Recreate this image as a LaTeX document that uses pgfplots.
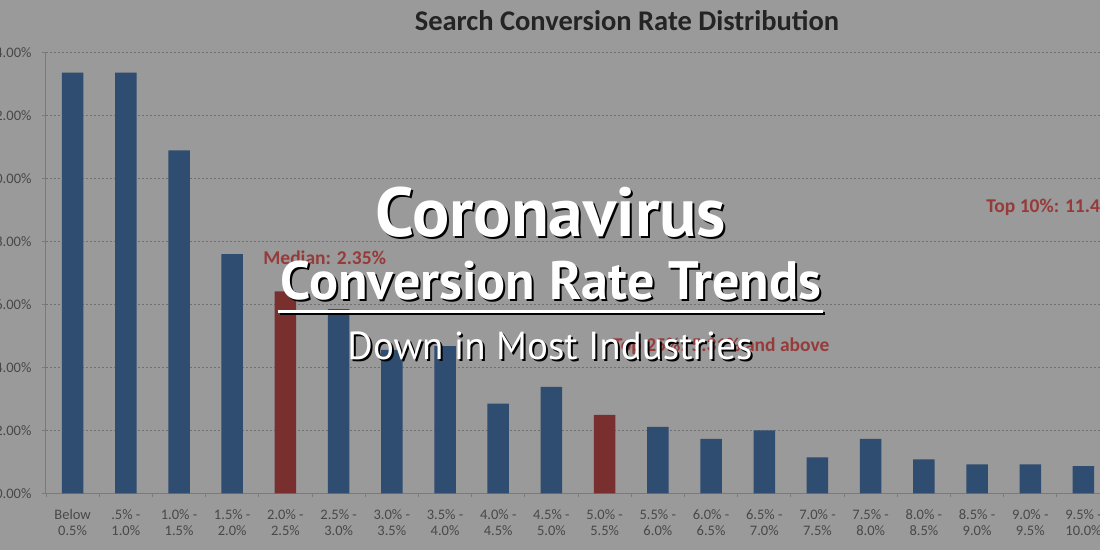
\documentclass[border=0pt]{standalone}
\usepackage{fontspec}
\setmainfont{Carlito}
\newfontfamily\ovfont{PT Sans}
\usepackage{graphicx}
\usepackage{pgfplots}
\pgfplotsset{compat=1.18}
\definecolor{bgc}{RGB}{154,154,154}
\definecolor{barblue}{RGB}{47,77,112}
\definecolor{barred}{RGB}{122,47,47}
\definecolor{gridc}{RGB}{112,112,112}
\definecolor{axisc}{RGB}{122,122,122}
\definecolor{tickc}{RGB}{72,72,72}
\definecolor{titlec}{RGB}{36,36,36}
\definecolor{annc}{RGB}{150,58,58}
\newcommand\ovtext[4]{%
  \node[anchor=base,inner sep=0pt,text=black] at (#1+2,#2-2) {\resizebox{#3pt}{!}{#4}};
  \node[anchor=base,inner sep=0pt,text=white] at (#1,#2) {\resizebox{#3pt}{!}{#4}};}
\begin{document}
\begin{tikzpicture}[x=1pt,y=1pt]
\useasboundingbox (0,0) rectangle (1100,550);
\fill[bgc] (0,0) rectangle (1100,550);
\clip (0,0) rectangle (1100,550);
\node[anchor=base,text=titlec,font=\fontsize{28.5}{31}\selectfont\bfseries] at (627,519) {Search Conversion Rate Distribution};
\begin{axis}[
  at={(46pt,56.7pt)}, anchor=south west,
  scale only axis, width=1054pt, height=440.6pt,
  xmin=-0.5, xmax=19.31, ymin=0, ymax=14,
  axis x line*=bottom, axis y line*=left,
  axis line style={draw=axisc, line width=1pt, -},
  ybar, bar width=21.5pt, bar shift=0pt,
  ytick={0,2,...,14},
  yticklabel={\pgfmathprintnumber[assume math mode=true,fixed,fixed zerofill,precision=2]{\tick}\%},
  yticklabel style={font=\fontsize{14.5}{16}\selectfont, text=tickc, xshift=-7pt},
  ymajorgrids,
  grid style={dash pattern=on 2pt off 2pt, line width=1.4pt, draw=gridc},
  tick align=outside, major tick length=4pt,
  tick style={draw=axisc, line width=0.8pt},
  xtick={-0.5,0.5,...,19.5}, xticklabels={},
  extra x ticks={0,1,...,19},
  extra x tick labels={{Below\\0.5\%},{.5\% -\\1.0\%},{1.0\% -\\1.5\%},{1.5\% -\\2.0\%},{2.0\% -\\2.5\%},{2.5\% -\\3.0\%},{3.0\% -\\3.5\%},{3.5\% -\\4.0\%},{4.0\% -\\4.5\%},{4.5\% -\\5.0\%},{5.0\% -\\5.5\%},{5.5\% -\\6.0\%},{6.0\% -\\6.5\%},{6.5\% -\\7.0\%},{7.0\% -\\7.5\%},{7.5\% -\\8.0\%},{8.0\% -\\8.5\%},{8.5\% -\\9.0\%},{9.0\% -\\9.5\%},{9.5\% -\\10.0\%}},
  extra x tick style={major tick length=0pt, tick style={draw=none}},
  xticklabel style={font=\fontsize{14.5}{16}\selectfont, text=tickc, align=center, yshift=-13pt},
  clip=false,
]
\addplot[fill=barblue, draw=none] coordinates {
 (0,13.37) (1,13.37) (2,10.9) (3,7.6) (5,5.85) (6,4.56) (7,4.68) (8,2.85) (9,3.38)
 (11,2.11) (12,1.73) (13,2.0) (14,1.14) (15,1.73) (16,1.08) (17,0.92) (18,0.92) (19,0.86)};
\addplot[fill=barred, draw=none] coordinates {(4,6.42) (10,2.49)};
\node[anchor=west,text=annc,font=\fontsize{19.5}{22}\selectfont\bfseries] at (axis cs:3.52,7.47) {Median: 2.35\%};
\node[anchor=east,text=annc,font=\fontsize{19.5}{22}\selectfont\bfseries] at (axis cs:14.29,4.68) {Top 25\%: 5.31\% and above};
\node[anchor=west,text=annc,font=\fontsize{19.5}{22}\selectfont\bfseries] at (axis cs:17.11,9.09) {Top 10\%: 11.45\% and above};
\end{axis}
\ovtext{551}{313}{350}{\ovfont\bfseries Coronavirus}
\ovtext{551}{251}{540}{\ovfont\bfseries Conversion Rate Trends}
\draw[black,line width=3pt] (280,237) -- (825,237);
\draw[white,line width=3pt] (278,239) -- (823,239);
\ovtext{550}{191}{405}{\ovfont Down in Most Industries}
\end{tikzpicture}
\end{document}
